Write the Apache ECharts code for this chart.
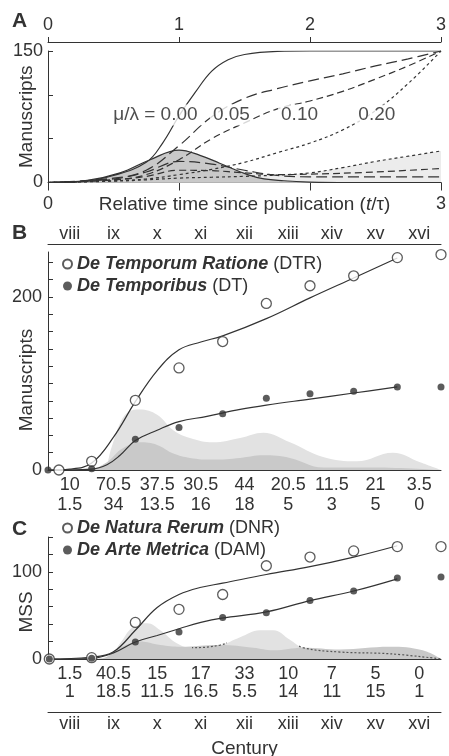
<!DOCTYPE html>
<html>
<head>
<meta charset="utf-8">
<script src="https://cdn.jsdelivr.net/npm/echarts@6/dist/echarts.min.js"></script>
<style>
  html, body { margin: 0; padding: 0; background: #fff; }
  #main { width: 449px; height: 756px; }
</style>
</head>
<body>
<div id="main"></div>
<script>
// ---------------- panel A : model, [t/tau, manuscripts] ----------------
var cum000 = [[0,0],[0.25,1],[0.5,8],[0.75,23],[0.875,45],[1,76],[1.125,103],[1.25,127],[1.375,140],[1.5,146],[1.75,149.5],[2,150],[2.5,150],[3,150]];
var cum005 = [[0,0],[0.5,5],[0.75,14],[1,42],[1.25,75],[1.5,96],[1.75,107],[2,116],[2.25,124],[2.5,133],[2.75,141],[3,150]];
var cum010 = [[0,0],[0.5,3],[0.75,9],[1,26],[1.25,50],[1.5,68],[1.75,84],[2,93],[2.25,104],[2.5,118],[2.75,133],[3,150]];
var cum020 = [[0,0],[0.5,2],[0.75,4],[1,9],[1.25,15],[1.5,23],[1.75,34],[2,45],[2.25,60],[2.5,82],[2.75,113],[3,150]];
var surv005 = [[0,0],[0.5,4],[0.75,12],[1,24],[1.25,21],[1.5,14],[1.75,8],[2,6.5],[2.5,6.5],[3,6.5]];
var surv010 = [[0,0],[0.5,3],[0.75,7],[1,14],[1.25,13.5],[1.5,11],[1.75,9],[2,9.5],[2.5,12],[3,16]];
var surv020 = [[0,0],[0.5,1.5],[0.75,3],[1,5],[1.25,6],[1.5,7],[1.75,8.5],[2,11],[2.25,17],[2.5,24],[2.75,30],[3,36]];
var rate000 = [[0,0],[0.3,2.5],[0.55,11],[0.78,26],[1,37],[1.16,31],[1.31,22],[1.47,12],[1.62,5],[1.8,2],[2,0.5],[2.3,0],[3,0]];
var annText = ['\u03bc/\u03bb = 0.00', '0.05', '0.10', '0.20'];
var annT = [0.82, 1.40, 1.92, 2.51];
var annV = [77, 77, 77, 77];

// ---------------- panel B : DTR / DT ----------------
var centuries = ['viii','ix','x','xi','xii','xiii','xiv','xv','xvi'];
var dtrPerCentury = ['10','70.5','37.5','30.5','44','20.5','11.5','21','3.5'];
var dtPerCentury  = ['1.5','34','13.5','16','18','5','3','5','0'];
var dtrYears = [725,800,900,1000,1100,1200,1300,1400,1500,1600];
var dtrCum   = [0,10,80.5,118,148.5,192.5,213,224.5,245.5,249];
var dtYears  = [700,800,900,1000,1100,1200,1300,1400,1500,1600];
var dtCum    = [0,1.5,35.5,49,65,83,88,91,96,96];
var dtrFit = [[700,0],[750,1],[800,8],[850,38],[900,79],[950,115],[1000,139],[1050,148],[1100,155],[1200,175],[1300,199],[1400,222],[1500,245]];
var dtFit  = [[700,0],[800,1],[835,6],[865,17],[900,34],[950,46],[1000,56],[1064,62],[1140,70],[1200,75],[1300,82],[1400,89],[1500,96]];
var dtrRate = [[750,0],[800,0],[826,1],[846,27],[865,54],[884,67],[910,70],[950,64],[987,46],[1025,37],[1078,32],[1140,37],[1193,43],[1254,32],[1330,15],[1407,10],[1490,20],[1552,9],[1600,0]];
var dtRate  = [[750,0],[790,0],[835,9],[865,23],[895,31],[910,32],[950,29],[987,19],[1025,14],[1078,12],[1140,14],[1193,17],[1254,14],[1330,3],[1445,3],[1600,0]];
var ticksB = [0,20,40,60,80,100,120,140,160,180,200,220,240];

// ---------------- panel C : DNR / DAM ----------------
var dnrPerCentury = ['1.5','40.5','15','17','33','10','7','5','0'];
var damPerCentury = ['1','18.5','11.5','16.5','5.5','14','11','15','1'];
var cYears = [703,800,900,1000,1100,1200,1300,1400,1500,1600];
var dnrCum = [0,1.5,42,57,74,107,117,124,129,129];
var damCum = [0,1,19.5,31,47.5,53,67,78,93,94];
var dnrFit = [[700,0],[796,2],[849,8],[900,33],[950,59],[1000,74],[1048,82],[1100,87],[1200,97],[1300,106],[1400,117],[1500,130]];
var damFit = [[700,0],[796,0.5],[850,7],[900,19.5],[950,27],[1002,35],[1050,42],[1098,47],[1200,54],[1300,67],[1400,78],[1500,92]];
var dnrRate = [[780,0],[835,0.5],[865,18],[895,37],[927,41],[957,33],[995,18],[1025,13],[1094,16],[1140,25],[1185,33],[1216,33],[1254,22],[1284,13],[1369,8],[1483,6],[1600,0]];
var damRate = [[780,0],[820,0.5],[865,13],[910,20],[957,16],[1003,14],[1094,16],[1170,13],[1216,10],[1284,13],[1369,11],[1483,14],[1558,10],[1600,0]];

var legendText = {
  DTR: '{b|De Temporum Ratione} (DTR)',
  DT:  '{b|De Temporibus} (DT)',
  DNR: '{b|De Natura Rerum} (DNR)',
  DAM: '{b|De Arte Metrica} (DAM)'
};

var ink = '#333';
var lightFill = '#e2e2e2';
var darkFill = '#c9c9c9';
var FONT = "'Liberation Sans', Arial, Helvetica, sans-serif";
var TICK_FS = 18;
var NAME_FS = 19;

function zip(xs, ys) {
  return xs.map(function (x, i) { return [x, ys[i]]; });
}

// area only (no outline)
function fillSeries(data, xi, yi, color, z) {
  return { type: 'line', xAxisIndex: xi, yAxisIndex: yi, data: data, smooth: 0.4, symbol: 'none',
    lineStyle: { width: 0 }, areaStyle: { color: color, opacity: 1 }, z: z, silent: true };
}
// outline only
function curveSeries(data, xi, yi, dash, z) {
  return { type: 'line', xAxisIndex: xi, yAxisIndex: yi, data: data, smooth: 0.4, symbol: 'none',
    lineStyle: { color: ink, width: 1.2, type: dash }, z: z, silent: true };
}
function dotSeries(name, data, xi, yi, open) {
  return { name: name, type: 'scatter', xAxisIndex: xi, yAxisIndex: yi, data: data,
    symbol: 'circle', symbolSize: open ? 10 : 7,
    itemStyle: open ? { color: '#fff', borderColor: ink, borderWidth: 1.3 } : { color: ink },
    z: 6 };
}

var series = [];
// A
series.push(fillSeries(surv005, 0, 0, '#ececec', 1));
series.push(fillSeries(surv010, 0, 0, '#ececec', 1));
series.push(fillSeries(surv020, 0, 0, '#ececec', 1));
var bump = curveSeries(rate000, 0, 0, 'solid', 2);
bump.areaStyle = { color: darkFill, opacity: 1 };
series.push(bump);
series.push(curveSeries(surv005, 0, 0, [11, 5], 3));
series.push(curveSeries(surv010, 0, 0, [7, 4], 3));
series.push(curveSeries(surv020, 0, 0, [3, 3], 3));
series.push(curveSeries(cum000, 0, 0, 'solid', 3));
series.push(curveSeries(cum005, 0, 0, [11, 5], 3));
series.push(curveSeries(cum010, 0, 0, [7, 4], 3));
series.push(curveSeries(cum020, 0, 0, [3, 3], 3));
series.push({
  type: 'scatter', xAxisIndex: 0, yAxisIndex: 0, data: zip(annT, annV), symbolSize: 1, z: 10, zlevel: 1, silent: true,
  itemStyle: { color: 'rgba(0,0,0,0)' },
  label: { show: true, position: 'inside', fontSize: NAME_FS, color: '#222', fontFamily: FONT,
    backgroundColor: '#fff', padding: [1, 3],
    formatter: function (p) { return annText[p.dataIndex]; } }
});
// B
series.push(fillSeries(dtrRate, 2, 1, lightFill, 1));
series.push(fillSeries(dtRate, 2, 1, darkFill, 2));
series.push(curveSeries(dtrFit, 2, 1, 'solid', 4));
series.push(curveSeries(dtFit, 2, 1, 'solid', 4));
series.push(dotSeries('DTR', zip(dtrYears, dtrCum), 2, 1, true));
series.push(dotSeries('DT', zip(dtYears, dtCum), 2, 1, false));
// C
series.push(fillSeries(dnrRate, 5, 2, lightFill, 1));
series.push(fillSeries(damRate, 5, 2, darkFill, 2));
// dotted DNR rate, only visible where it runs under the DAM area (colour comes from visualMap)
var dottedIndex = series.length;
series.push({ type: 'line', xAxisIndex: 5, yAxisIndex: 2, data: dnrRate, smooth: 0.4, symbol: 'none',
  lineStyle: { width: 1.2, type: [2, 2] }, z: 3, silent: true });
series.push(curveSeries(dnrFit, 5, 2, 'solid', 4));
series.push(curveSeries(damFit, 5, 2, 'solid', 4));
series.push(dotSeries('DNR', zip(cYears, dnrCum), 5, 2, true));
series.push(dotSeries('DAM', zip(cYears, damCum), 5, 2, false));

var axLine = { lineStyle: { color: ink, width: 1 } };
var lbl = { fontSize: TICK_FS, color: ink, fontFamily: FONT };
var nameStyle = { fontSize: NAME_FS, color: ink, fontFamily: FONT };

function legendBlock(names, top) {
  return {
    data: names, orient: 'vertical', left: 57, top: top, itemWidth: 9, itemHeight: 9, itemGap: 2,
    selectedMode: false,
    textStyle: { fontSize: 18, color: ink, fontFamily: FONT, lineHeight: 20,
      rich: { b: { fontSize: 18, fontWeight: 'bold', fontStyle: 'italic', color: ink, fontFamily: FONT } } },
    formatter: function (n) { return legendText[n]; }
  };
}

var option = {
  animation: false,
  backgroundColor: '#fff',
  textStyle: { fontFamily: FONT, color: ink },
  grid: [
    { left: 48, right: 8, top: 51, height: 131.5, outerBoundsMode: 'none' },
    { left: 48, right: 8, top: 252, height: 218, outerBoundsMode: 'none' },
    { left: 48, right: 8, top: 537, height: 122, outerBoundsMode: 'none' }
  ],
  xAxis: [
    { // 0 A bottom
      gridIndex: 0, type: 'value', min: 0, max: 3, interval: 1, position: 'bottom',
      axisLine: axLine, axisTick: { length: 8, lineStyle: { color: ink } }, splitLine: { show: false },
      axisLabel: Object.assign({ margin: 13, formatter: function (v) { return (v === 0 || v === 3) ? v : ''; } }, lbl),
      name: 'Relative time since publication ({i|t}/\u03c4)', nameLocation: 'middle', nameGap: 13,
      nameMoveOverlap: false,
      nameTextStyle: Object.assign({ rich: { i: { fontSize: NAME_FS, fontStyle: 'italic', color: ink, fontFamily: FONT } } }, nameStyle)
    },
    { // 1 A top
      gridIndex: 0, type: 'value', min: 0, max: 3, interval: 1, position: 'top', offset: 9,
      axisLine: axLine, axisTick: { length: 5, lineStyle: { color: ink } }, splitLine: { show: false },
      axisLabel: Object.assign({ margin: 8 }, lbl)
    },
    { gridIndex: 1, type: 'value', min: 700, max: 1600, show: false },
    { // 3 B bottom per-century counts
      gridIndex: 1, type: 'category', data: centuries, position: 'bottom', boundaryGap: true,
      axisLine: axLine, axisTick: { length: 10, lineStyle: { color: ink } },
      axisLabel: Object.assign({ margin: 5, interval: 0, lineHeight: 20,
        formatter: function (v, i) { return dtrPerCentury[i] + '\n' + dtPerCentury[i]; } }, lbl)
    },
    { // 4 B top centuries
      gridIndex: 1, type: 'category', data: centuries, position: 'top', offset: 8, boundaryGap: true,
      axisLine: axLine, axisTick: { length: 5, lineStyle: { color: ink } },
      axisLabel: Object.assign({ margin: 1, interval: 0 }, lbl)
    },
    { gridIndex: 2, type: 'value', min: 700, max: 1600, show: false },
    { // 6 C bottom per-century counts
      gridIndex: 2, type: 'category', data: centuries, position: 'bottom', boundaryGap: true,
      axisLine: axLine, axisTick: { length: 8, lineStyle: { color: ink } },
      axisLabel: Object.assign({ margin: 6, interval: 0, lineHeight: 18,
        formatter: function (v, i) { return dnrPerCentury[i] + '\n' + damPerCentury[i]; } }, lbl)
    },
    { // 7 C century axis
      gridIndex: 2, type: 'category', data: centuries, position: 'bottom', offset: 53, boundaryGap: true,
      axisLine: axLine, axisTick: { length: 7, lineStyle: { color: ink } },
      axisLabel: Object.assign({ margin: 3, interval: 0 }, lbl),
      name: 'Century', nameLocation: 'middle', nameGap: 27, nameMoveOverlap: false,
      nameTextStyle: nameStyle
    }
  ],
  yAxis: [
    {
      gridIndex: 0, type: 'value', min: 0, max: 150, interval: 50,
      axisLine: { show: true, lineStyle: { color: ink } },
      axisTick: { show: true, inside: true, length: 5, lineStyle: { color: ink } },
      splitLine: { show: false },
      axisLabel: Object.assign({ margin: 5, formatter: function (v) { return (v === 0 || v === 150) ? v : ''; } }, lbl),
      name: 'Manuscripts', nameLocation: 'middle', nameGap: 12, nameMoveOverlap: false,
      nameTextStyle: nameStyle
    },
    {
      gridIndex: 1, type: 'value', min: 0, max: 252,
      axisLine: { show: true, lineStyle: { color: ink } },
      axisTick: { show: true, inside: true, length: 5, customValues: ticksB, lineStyle: { color: ink } },
      splitLine: { show: false },
      axisLabel: Object.assign({ margin: 6, customValues: [0, 200] }, lbl),
      name: 'Manuscripts', nameLocation: 'middle', nameGap: 12, nameMoveOverlap: false,
      nameTextStyle: Object.assign({ padding: [0, 38, 0, 0] }, nameStyle)
    },
    {
      gridIndex: 2, type: 'value', min: 0, max: 140, interval: 20,
      axisLine: { show: true, lineStyle: { color: ink } },
      axisTick: { show: true, inside: true, length: 5, lineStyle: { color: ink } },
      splitLine: { show: false },
      axisLabel: Object.assign({ margin: 6, customValues: [0, 100] }, lbl),
      name: 'MSS', nameLocation: 'middle', nameGap: 12, nameMoveOverlap: false,
      nameTextStyle: Object.assign({ padding: [0, 28, 0, 0] }, nameStyle)
    }
  ],
  legend: [legendBlock(['DTR', 'DT'], 249), legendBlock(['DNR', 'DAM'], 513)],
  visualMap: [{
    show: false, type: 'piecewise', seriesIndex: dottedIndex, dimension: 0,
    pieces: [
      { lt: 1030, color: 'rgba(0,0,0,0)' },
      { gte: 1030, lt: 1110, color: '#555' },
      { gte: 1110, lt: 1275, color: 'rgba(0,0,0,0)' },
      { gte: 1275, color: '#555' }
    ]
  }],
  graphic: [
    { type: 'text', left: 12, top: 11, style: { text: 'A', fontSize: 21, fontWeight: 'bold', fontFamily: FONT, fill: ink } },
    { type: 'text', left: 12, top: 223, style: { text: 'B', fontSize: 21, fontWeight: 'bold', fontFamily: FONT, fill: ink } },
    { type: 'text', left: 12, top: 519, style: { text: 'C', fontSize: 21, fontWeight: 'bold', fontFamily: FONT, fill: ink } }
  ],
  series: series
};

var chart = echarts.init(document.getElementById('main'));
chart.setOption(option);
</script>
</body>
</html>
